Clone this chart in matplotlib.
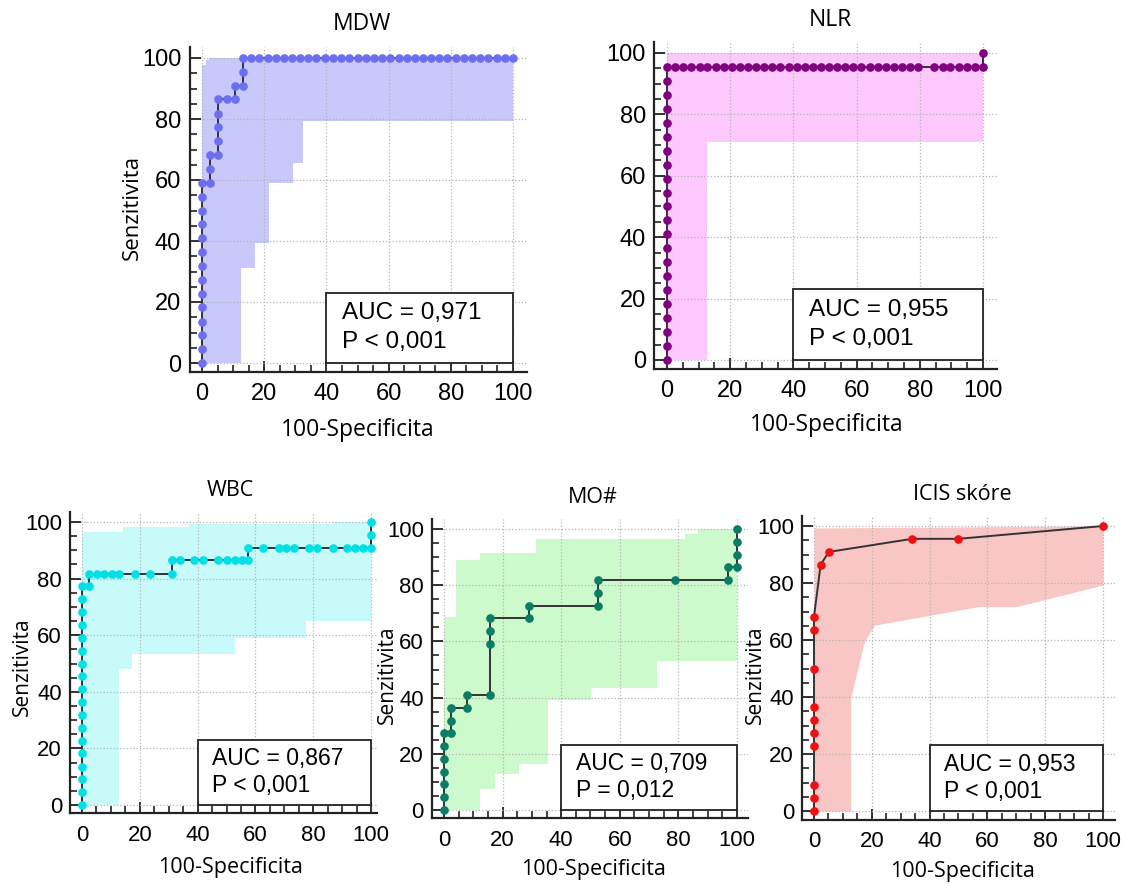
import matplotlib
matplotlib.use('Agg')
import matplotlib.pyplot as plt
from matplotlib.patches import Rectangle
from matplotlib.ticker import MultipleLocator
import numpy as np

# Данные ROC-кривых (100-Specificita, Senzitivita)
mdw_x = [0, 0, 0, 0, 0, 0, 0, 0, 0, 0, 0, 0, 0, 0,
         2.6, 2.6, 2.6, 5.3, 5.3, 5.3, 5.3, 5.3, 7.9, 10.5, 10.5, 13.2, 13.2, 13.2,
         15.8, 18.4, 21.1, 23.7, 26.3, 28.9, 31.6, 34.2, 36.8, 39.5, 42.1, 44.7,
         47.4, 50.0, 52.6, 55.3, 57.9, 60.5, 63.2, 65.8, 68.4, 71.1, 73.7, 76.3,
         78.9, 81.6, 84.2, 86.8, 89.5, 92.1, 94.7, 97.4, 100]
mdw_y = [0, 4.5, 9.1, 13.6, 18.2, 22.7, 27.3, 31.8, 36.4, 40.9, 45.5, 50.0, 54.5, 59.1,
         59.1, 63.6, 68.2, 68.2, 72.7, 77.3, 81.8, 86.4, 86.4, 86.4, 90.9, 90.9, 95.5, 100,
         100, 100, 100, 100, 100, 100, 100, 100, 100, 100, 100, 100,
         100, 100, 100, 100, 100, 100, 100, 100, 100, 100, 100, 100,
         100, 100, 100, 100, 100, 100, 100, 100, 100]

nlr_x = [0, 0, 0, 0, 0, 0, 0, 0, 0, 0, 0, 0, 0, 0, 0, 0, 0, 0, 0, 0, 0, 0,
         2.6, 5.1, 7.7, 10.3, 12.8, 15.4, 17.9, 20.5, 23.1, 25.6, 28.2, 30.8,
         33.3, 35.9, 38.5, 41.0, 43.6, 46.2, 48.7, 51.3, 53.8, 56.4, 59.0, 61.5,
         64.1, 66.7, 69.2, 71.8, 74.4, 76.9, 79.5,
         84.6, 87.2, 89.7, 92.3, 94.9, 97.4, 100, 100]
nlr_y = [0, 4.5, 9.1, 13.6, 18.2, 22.7, 27.3, 31.8, 36.4, 40.9, 45.5, 50.0,
         54.5, 59.1, 63.6, 68.2, 72.7, 77.3, 81.8, 86.4, 90.9, 95.5,
         95.5, 95.5, 95.5, 95.5, 95.5, 95.5, 95.5, 95.5, 95.5, 95.5, 95.5, 95.5,
         95.5, 95.5, 95.5, 95.5, 95.5, 95.5, 95.5, 95.5, 95.5, 95.5, 95.5, 95.5,
         95.5, 95.5, 95.5, 95.5, 95.5, 95.5, 95.5,
         95.5, 95.5, 95.5, 95.5, 95.5, 95.5, 95.5, 100]

wbc_x = [0, 0, 0, 0, 0, 0, 0, 0, 0, 0, 0, 0, 0, 0, 0, 0, 0, 0,
         2.3, 2.3, 5.2, 7.7, 10.4, 12.9, 18.4, 23.6, 31.1,
         31.1, 34.0, 38.9, 41.8, 47.2, 50.1, 52.8, 55.3, 57.6,
         57.6, 62.8, 68.0, 70.5, 73.2, 78.7, 81.2, 86.8, 91.6, 94.5, 97.4, 100,
         100, 100]
wbc_y = [0, 4.5, 9.1, 13.6, 18.2, 22.7, 27.3, 31.8, 36.4, 40.9, 45.5, 50.0,
         54.5, 59.1, 63.6, 68.2, 72.7, 77.3,
         77.3, 81.8, 81.8, 81.8, 81.8, 81.8, 81.8, 81.8, 81.8,
         86.4, 86.4, 86.4, 86.4, 86.4, 86.4, 86.4, 86.4, 86.4,
         90.9, 90.9, 90.9, 90.9, 90.9, 90.9, 90.9, 90.9, 90.9, 90.9, 90.9, 90.9,
         95.5, 100]

mo_x = [0, 0, 0, 0, 0, 0, 0, 2.4, 2.4, 2.4, 7.9, 7.9, 15.7, 15.7, 15.7, 15.7,
        29.0, 29.0, 52.4, 52.4, 52.4, 78.7, 96.9, 96.9, 100, 100, 100, 100]
mo_y = [0, 4.5, 9.1, 13.6, 18.2, 22.7, 27.3, 27.3, 31.8, 36.4, 36.4, 40.9, 40.9,
        59.1, 63.6, 68.2, 68.2, 72.7, 72.7, 77.3, 81.8, 81.8, 81.8, 86.4,
        86.4, 90.9, 95.5, 100]

icis_x = [0, 0, 0, 0, 0, 0, 0, 0, 0, 0, 2.3, 5.1, 34.0, 50.0, 100]
icis_y = [0, 4.5, 9.1, 22.7, 27.3, 31.8, 36.4, 50.0, 63.6, 68.2, 86.4, 90.9, 95.5, 95.5, 100]

# Доверительные интервалы (ступеньки: начало ступени, значение)
mdw_up_x, mdw_up_y = [0, 1.3, 2.3], [97.7, 99.3, 100]
mdw_lo_x, mdw_lo_y = [0, 12.6, 17.1, 21.4, 29.3, 32.4], [0, 31.3, 39.5, 59.0, 65.5, 79.5]
nlr_up_x, nlr_up_y = [0], [100]
nlr_lo_x, nlr_lo_y = [0, 12.6], [0, 71.0]
wbc_up_x, wbc_up_y = [0, 14.2, 36.9, 86.8], [96.6, 98.4, 99.4, 100]
wbc_lo_x, wbc_lo_y = [0, 12.7, 17.3, 53.0, 77.5], [0, 48.2, 53.5, 59.0, 64.9]
mo_up_x, mo_up_y = [0, 0.5, 4.1, 12.2, 31.3, 82.3, 86.7], [64.4, 68.6, 89.1, 91.5, 96.4, 98.3, 100]
mo_lo_x, mo_lo_y = [0, 12.3, 17.3, 25.6, 35.6, 50.2, 72.6], [0, 7.4, 12.8, 16.3, 39.1, 43.5, 53.1]
# ICIS - ломаная, не ступеньки
icis_up_x, icis_up_y = [0, 100], [99.3, 100]
icis_lo_x = [0, 12.7, 12.7, 17.5, 20.9, 56.8, 70.0, 100]
icis_lo_y = [0, 0, 39.8, 59.7, 65.2, 71.7, 71.7, 79.3]

titles = ['MDW', 'NLR', 'WBC', 'MO#', 'ICIS skóre']
auc_text = ['AUC = 0,971', 'AUC = 0,955', 'AUC = 0,867', 'AUC = 0,709', 'AUC = 0,953']
p_text = ['P < 0,001', 'P < 0,001', 'P < 0,001', 'P = 0,012', 'P < 0,001']

fill_colors = ['#c8c8fa', '#fdc8fd', '#c8fafa', '#ccfacc', '#f9c6c6']
dot_colors = ['#6e6ef0', '#80007f', '#00e0e6', '#0a7d64', '#ee1111']

W, H = 1130, 886
fig = plt.figure(figsize=(W / 100, H / 100), dpi=100)

# Положение панелей: пиксели для x=0, x=100, y=0, y=100 и правый край оси
calib = [(202, 513, 363, 58, 104.5),
         (667, 983, 360, 53, 104.4),
         (82, 371, 805, 522, 102.0),
         (444, 737, 810, 529, 103.8),
         (814, 1103, 811, 526, 104.2)]
x_lo, y_lo, y_hi = -4.0, -3.0, 103.5

title_pos = [(362, 24), (830, 20), (230, 490), (593, 498), (962, 495)]
xlab_pos = [(358, 430), (827, 425), (230, 867), (593, 870), (962, 872)]
ylab_pos = [(132, 207), None, (22, 667), (387, 675), (755, 675)]
font_scale = [1.0, 1.0, 0.94, 0.94, 0.94]

rocs = [(mdw_x, mdw_y), (nlr_x, nlr_y), (wbc_x, wbc_y), (mo_x, mo_y), (icis_x, icis_y)]
bands = [(mdw_up_x, mdw_up_y, mdw_lo_x, mdw_lo_y),
         (nlr_up_x, nlr_up_y, nlr_lo_x, nlr_lo_y),
         (wbc_up_x, wbc_up_y, wbc_lo_x, wbc_lo_y),
         (mo_up_x, mo_up_y, mo_lo_x, mo_lo_y),
         None]


def step_vals(edges, bx, by):
    idx = np.searchsorted(bx, edges[:-1], side='right') - 1
    return np.asarray(by, dtype=float)[idx]


for i in range(5):
    px0, px100, py0, py100, x_hi = calib[i]
    sx = (px100 - px0) / 100.0
    sy = (py0 - py100) / 100.0
    left = px0 + x_lo * sx
    right = px0 + x_hi * sx
    bottom = py0 - y_lo * sy
    top = py0 - y_hi * sy
    ax = fig.add_axes([left / W, 1 - bottom / H, (right - left) / W, (bottom - top) / H])
    ax.set_xlim(x_lo, x_hi)
    ax.set_ylim(y_lo, y_hi)
    fs = font_scale[i]

    # полоса доверительного интервала
    if bands[i] is not None:
        ux, uy, lx, ly = bands[i]
        edges = np.union1d(ux, lx)
        edges = np.append(edges, 100)
        ax.stairs(step_vals(edges, ux, uy), edges, baseline=step_vals(edges, lx, ly),
                  fill=True, color=fill_colors[i], lw=0, zorder=1)
    else:
        lx = np.array(icis_lo_x)
        ax.fill_between(lx, np.interp(lx, icis_up_x, icis_up_y), icis_lo_y,
                        color=fill_colors[i], lw=0, zorder=1)

    x, y = rocs[i]
    ax.plot(x, y, color='#333333', lw=1.4, zorder=4)
    ax.plot(x, y, 'o', color=dot_colors[i], ms=5.2, mec=dot_colors[i], zorder=5)

    # рамка с AUC
    ax.add_patch(Rectangle((40, 0), 60, 23, facecolor='white', edgecolor='#222222',
                           lw=1.3, zorder=3))
    ax.text(45, 16.4, auc_text[i], fontsize=17.5 * fs, family='Liberation Sans',
            va='center', ha='left', zorder=6)
    ax.text(45, 7.0, p_text[i], fontsize=17.5 * fs, family='Liberation Sans',
            va='center', ha='left', zorder=6)

    ax.set_axisbelow(False)
    ax.grid(True, which='major', linestyle=':', color='#b4b4b4', lw=0.9, zorder=2)
    ax.set_xticks([0, 20, 40, 60, 80, 100])
    ax.set_yticks([0, 20, 40, 60, 80, 100])
    # минорные тики только внутри диапазона 0..100
    ax.set_xticks([t for t in range(5, 100, 5) if t % 20], minor=True)
    ax.set_yticks([t for t in range(5, 100, 5) if t % 20], minor=True)
    ax.tick_params(which='major', direction='in', length=8, width=1.3,
                   labelsize=17 * fs, color='#222222')
    ax.tick_params(which='minor', direction='in', length=5, width=1.2, color='#222222')
    ax.tick_params(axis='x', which='major', pad=8)
    ax.tick_params(axis='y', which='major', pad=6)
    for lab in ax.get_xticklabels() + ax.get_yticklabels():
        lab.set_family('Liberation Sans')

    for s in ['top', 'right']:
        ax.spines[s].set_visible(False)
    for s in ['left', 'bottom']:
        ax.spines[s].set_linewidth(1.6)
        ax.spines[s].set_color('#222222')

    tx, ty = title_pos[i]
    fig.text(tx / W, 1 - ty / H, titles[i], fontsize=16.5 * fs, family='Open Sans',
             ha='center', va='center')
    lx_, ly_ = xlab_pos[i]
    fig.text(lx_ / W, 1 - ly_ / H, '100-Specificita', fontsize=16.5 * fs, family='Open Sans',
             ha='center', va='center')
    if ylab_pos[i] is not None:
        yx, yy = ylab_pos[i]
        fig.text(yx / W, 1 - yy / H, 'Senzitivita', fontsize=16 * fs, family='Open Sans',
                 ha='center', va='center', rotation=90)

fig.savefig('out.png', dpi=100)
